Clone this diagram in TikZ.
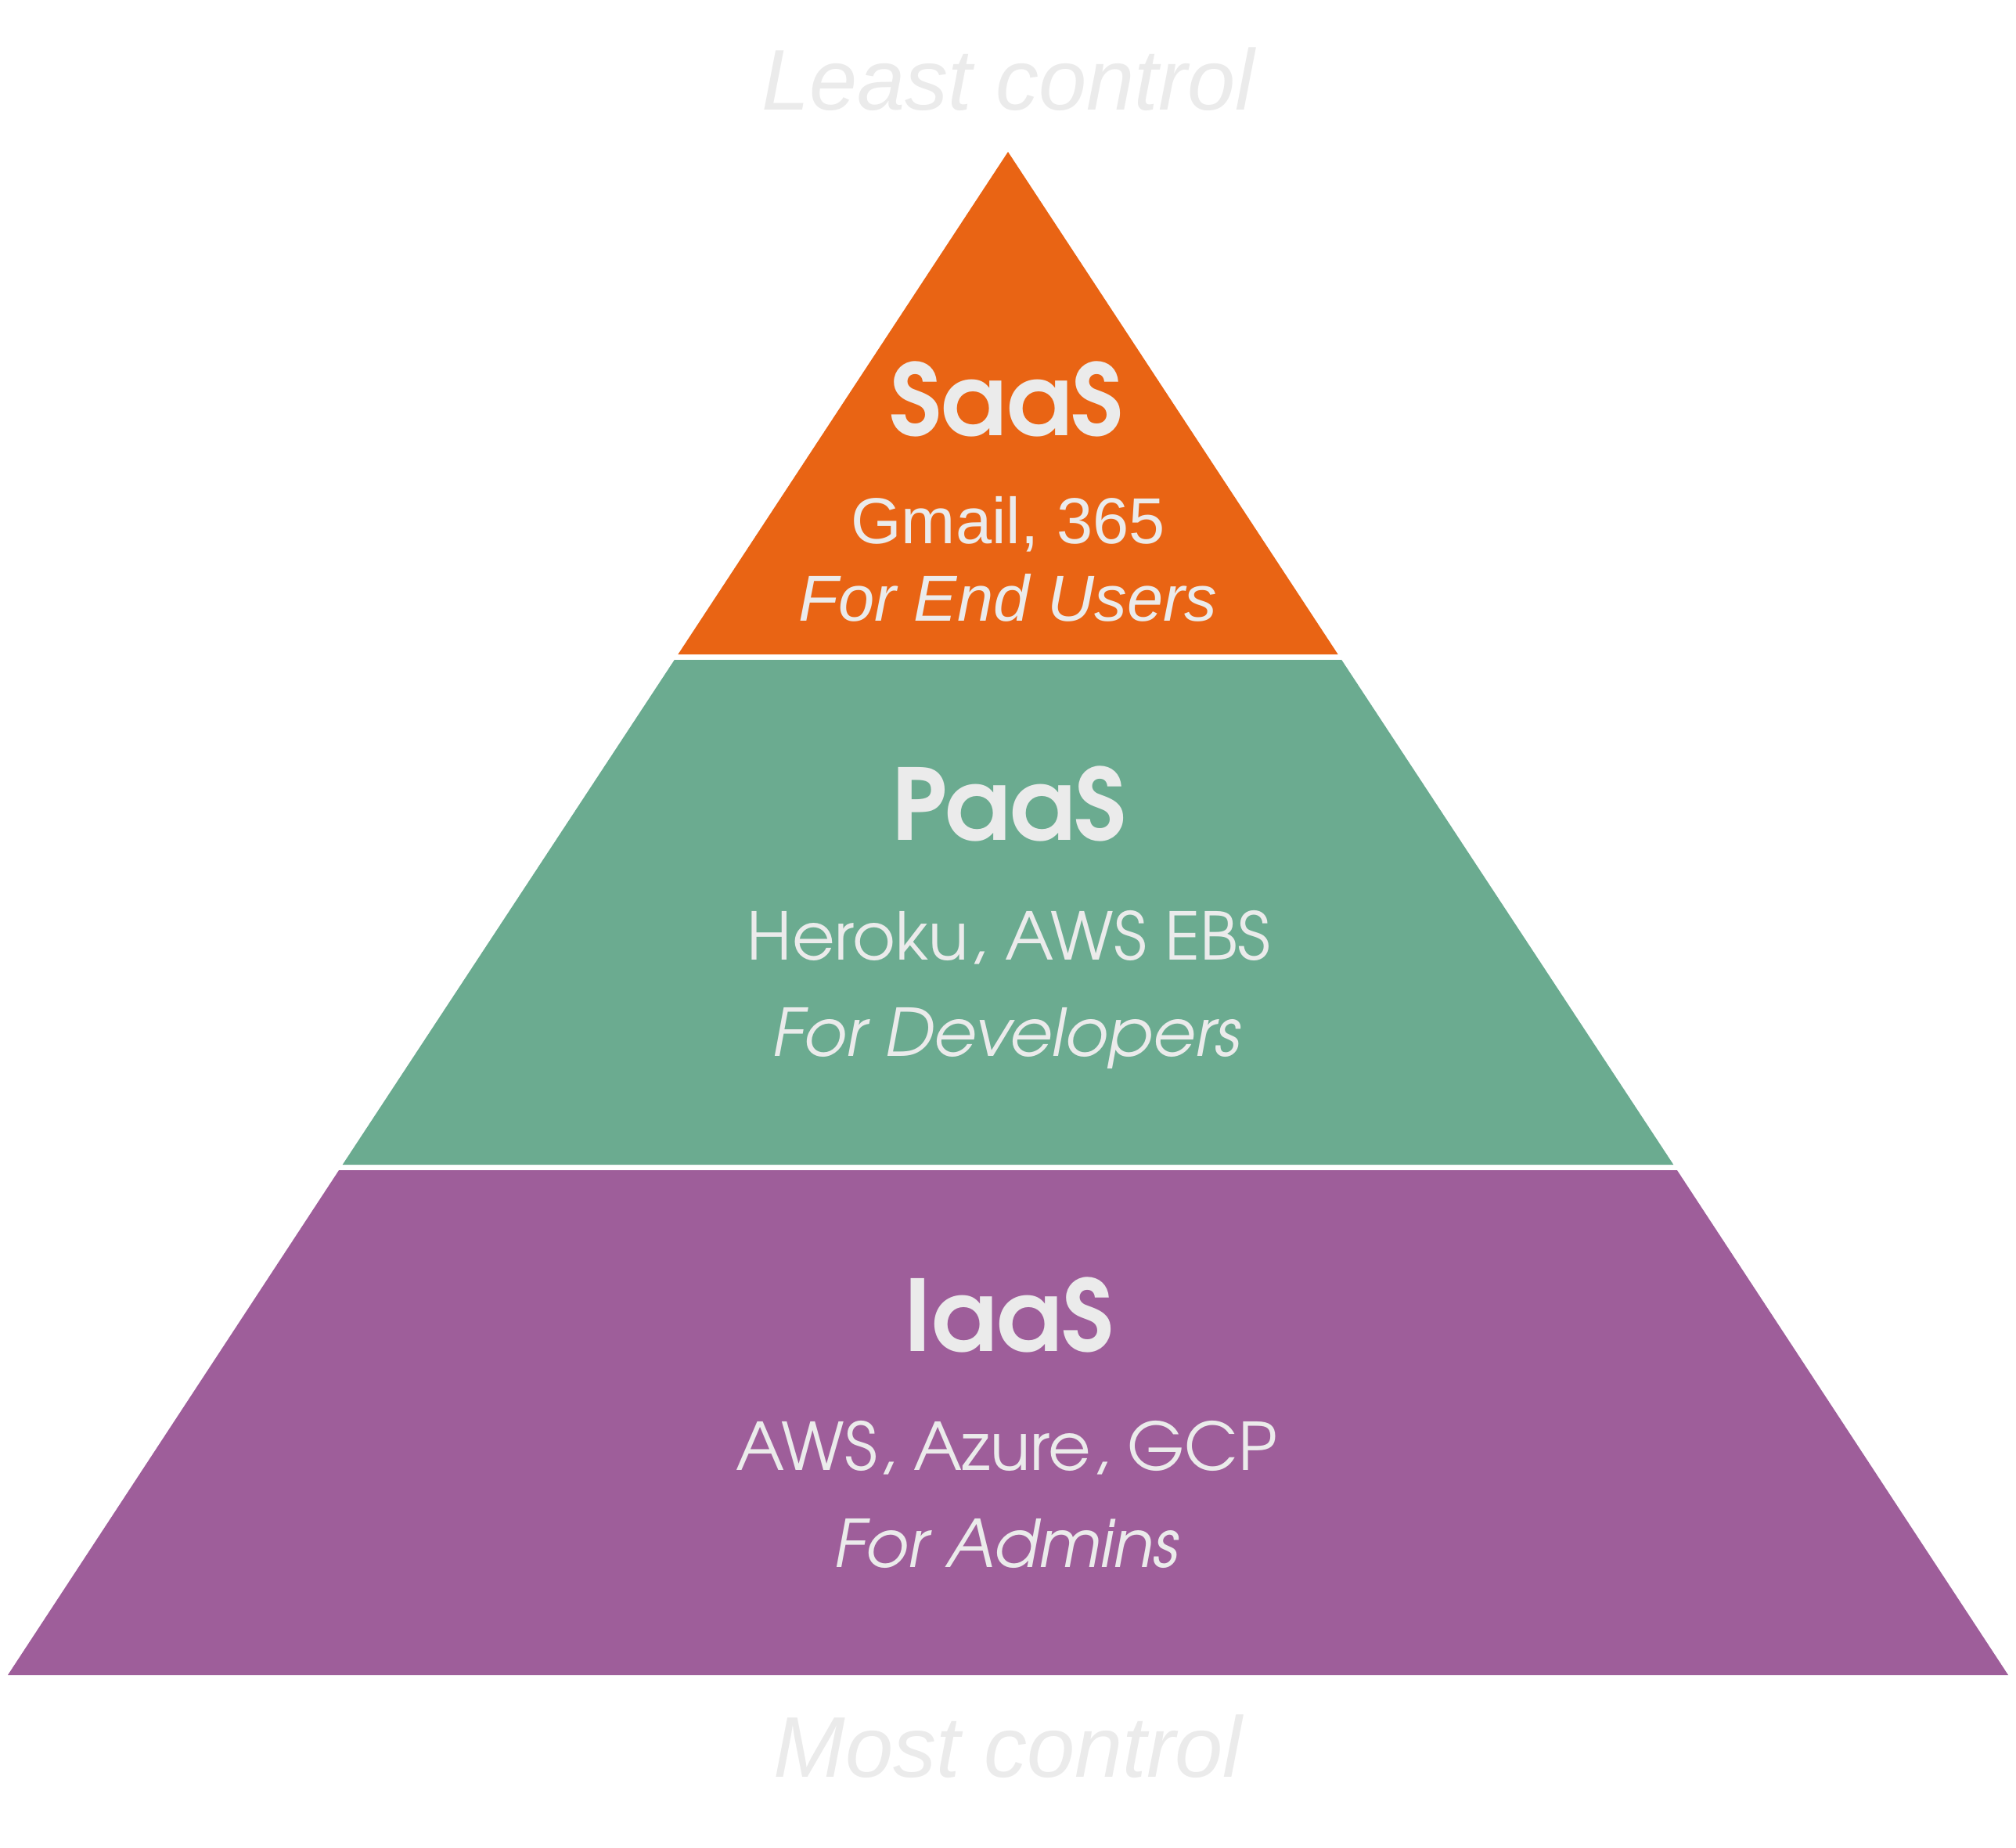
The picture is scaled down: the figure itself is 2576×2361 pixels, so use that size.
\documentclass[tikz,border=0pt]{standalone}
\usepackage{fontspec}
\setmainfont{Liberation Sans}
\newfontfamily\gothic{texgyreadventor}[Extension=.otf, UprightFont=*-regular, BoldFont=*-bold, ItalicFont=*-italic, BoldItalicFont=*-bolditalic]
\definecolor{saasc}{RGB}{233,100,20}
\definecolor{paasc}{RGB}{107,171,144}
\definecolor{iaasc}{RGB}{158,94,154}
\definecolor{txt}{RGB}{235,235,235}
\tikzset{
  lbl/.style={anchor=base, inner sep=0pt, text=txt},
  ctrl/.style={lbl, font=\fontsize{110}{130}\selectfont\itshape},
  head/.style={lbl, font=\gothic\fontsize{126}{150}\selectfont\bfseries},
  gline/.style={lbl, font=\gothic\fontsize{84}{100}\selectfont},
  giline/.style={lbl, font=\gothic\fontsize{84}{100}\selectfont\itshape},
  aline/.style={lbl, font=\fontsize{83}{100}\selectfont},
  ailine/.style={lbl, font=\fontsize{83}{100}\selectfont\itshape},
}
\begin{document}
\begin{tikzpicture}[x=1pt,y=-1pt]
\useasboundingbox (0,0) rectangle (2576,2361);
\fill[white] (0,0) rectangle (2576,2361);
% layers
\fill[saasc] (1288,194) -- (1709.6,836) -- (866.4,836) -- cycle;
\fill[paasc] (861.8,843) -- (1714.2,843) -- (2138.3,1488) -- (437.7,1488) -- cycle;
\fill[iaasc] (433.1,1495) -- (2142.9,1495) -- (2566,2140) -- (10,2140) -- cycle;
% labels
\node[ctrl] (least) at (1288,140) {Least control};
\node[head] (saas) at (1286,556) {SaaS};
\node[aline] (saasex) at (1288,694) {Gmail, 365};
\node[ailine] (saasfor) at (1288,793) {For End Users};
\node[head] (paas) at (1289,1073) {PaaS};
\node[gline] (paasex) at (1289,1226) {Heroku, AWS EBS};
\node[giline] (paasfor) at (1286,1349) {For Developers};
\node[head] (iaas) at (1289,1726) {IaaS};
\node[gline] (iaasex) at (1286,1878) {AWS, Azure, GCP};
\node[giline] (iaasfor) at (1286,2002) {For Admins};
\node[ctrl] (most) at (1288,2270) {Most control};
\end{tikzpicture}
\end{document}
